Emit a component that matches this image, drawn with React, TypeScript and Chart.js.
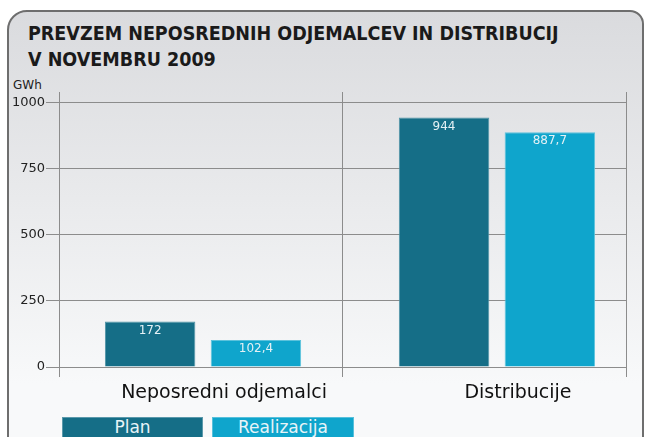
import React, { useEffect, useRef } from "react";
import { Chart, registerables } from "chart.js";

Chart.register(...registerables);

const categories = ["Neposredni odjemalci", "Distribucije"];
const seriesNames = ["Plan", "Realizacija"];
const planValues = [172, 944];
const realValues = [102.4, 887.7];
const seriesColors = ["#156e87", "#0fa5cc"];
const seriesEdges = ["#4f93a6", "#5cc2dc"];
const yTicks = [0, 250, 500, 750, 1000];
const titleLines = ["PREVZEM NEPOSREDNIH ODJEMALCEV IN DISTRIBUCIJ", "V NOVEMBRU 2009"];
const unitLabel = "GWh";

// category axis bounds (group positions 0 and 1) and the divider between groups
const X_MIN = -0.49;
const X_MAX = 1.439;
const X_DIVIDER = 0.4745;

const FONT_C = "'DejaVu Sans Condensed', 'DejaVu Sans', sans-serif";
const FONT = "'DejaVu Sans', sans-serif";
const GRID = "#8c8c8c";

const valueLabels = {
  id: "valueLabels",
  afterDatasetsDraw(chart: any) {
    const ctx = chart.ctx;
    ctx.save();
    ctx.font = `12px ${FONT}`;
    ctx.fillStyle = "#e4f1f5";
    ctx.textAlign = "center";
    ctx.textBaseline = "top";
    chart.data.datasets.forEach((ds: any, di: number) => {
      const meta = chart.getDatasetMeta(di);
      meta.data.forEach((bar: any, i: number) => {
        const v = ds.data[i].y;
        ctx.fillText(String(v).replace(".", ","), bar.x, bar.y + 3);
      });
    });
    ctx.restore();
  },
};

const groupLines = {
  id: "groupLines",
  beforeDatasetsDraw(chart: any) {
    const ctx = chart.ctx;
    const xs = chart.scales.x;
    const area = chart.chartArea;
    ctx.save();
    ctx.strokeStyle = GRID;
    ctx.lineWidth = 1;
    [X_MIN, X_DIVIDER, X_MAX].forEach((v) => {
      const px = Math.round(xs.getPixelForValue(v)) + 0.5;
      ctx.beginPath();
      ctx.moveTo(px, area.top);
      ctx.lineTo(px, area.bottom + 10);
      ctx.stroke();
    });
    ctx.restore();
  },
};

export default function App() {
  const canvasRef = useRef<HTMLCanvasElement | null>(null);

  useEffect(() => {
    const chart = new Chart(canvasRef.current as HTMLCanvasElement, {
      type: "bar",
      data: {
        datasets: [
          {
            label: seriesNames[0],
            data: planValues.map((v, i) => ({ x: i, y: v })),
            backgroundColor: seriesColors[0],
            borderColor: seriesEdges[0],
            borderWidth: 1,
          },
          {
            label: seriesNames[1],
            data: realValues.map((v, i) => ({ x: i, y: v })),
            backgroundColor: seriesColors[1],
            borderColor: seriesEdges[1],
            borderWidth: 1,
          },
        ],
      },
      options: {
        animation: false,
        responsive: false,
        events: [],
        layout: { padding: { left: 0, right: 20, top: 92, bottom: 0 } },
        datasets: {
          bar: { categoryPercentage: 0.72, barPercentage: 0.855 },
        },
        plugins: {
          legend: { display: false },
          tooltip: { enabled: false },
          title: { display: false },
        },
        scales: {
          x: {
            type: "linear",
            min: X_MIN,
            max: X_MAX,
            offset: false,
            border: { display: false },
            grid: { display: false, offset: false, drawTicks: true, tickLength: 10 },
            ticks: {
              color: "#111",
              font: { family: FONT, size: 19 },
              padding: 5,
              labelOffset: 21,
              callback: (value: any) =>
                Number.isInteger(value) ? categories[value] : "",
            },
            afterBuildTicks(scale: any) {
              scale.ticks = categories.map((_, i) => ({ value: i }));
            },
            afterFit(scale: any) {
              scale.height = 70;
            },
          },
          y: {
            min: 0,
            max: 1040,
            border: { display: false },
            grid: { color: GRID, lineWidth: 1, tickLength: 13 },
            ticks: {
              color: "#222",
              font: { family: FONT, size: 13 },
              padding: 1,
              callback: (value: any) => String(value),
            },
            afterBuildTicks(scale: any) {
              scale.ticks = yTicks.map((v) => ({ value: v }));
            },
            afterFit(scale: any) {
              scale.width = 59;
            },
          },
        },
      },
      plugins: [groupLines, valueLabels],
    });
    return () => chart.destroy();
  }, []);

  return (
    <div
      style={{
        position: "absolute",
        left: 0,
        top: 0,
        width: 646,
        height: 437,
        overflow: "hidden",
        background: "#ffffff",
      }}
    >
      <div
        style={{
          position: "absolute",
          left: 7,
          top: 10,
          width: 637,
          height: 470,
          boxSizing: "border-box",
          border: "2px solid #6e6e6e",
          borderRadius: "20px 14px 20px 20px",
          background: "linear-gradient(#dadbde, #f8f9fa 80%)",
        }}
      />
      <div
        style={{
          position: "absolute",
          left: 28,
          top: 21,
          fontFamily: FONT_C,
          fontWeight: "bold",
          fontSize: 19.5,
          lineHeight: "26px",
          color: "#1a1a1a",
          whiteSpace: "nowrap",
        }}
      >
        {titleLines.map((t) => (
          <div key={t}>{t}</div>
        ))}
      </div>
      <div
        style={{
          position: "absolute",
          left: 13,
          top: 78,
          fontFamily: FONT,
          fontSize: 12,
          color: "#222",
        }}
      >
        {unitLabel}
      </div>
      <canvas
        ref={canvasRef}
        width={646}
        height={437}
        style={{ position: "absolute", left: 0, top: 0 }}
      />
      {seriesNames.map((name, i) => (
        <div
          key={name}
          style={{
            position: "absolute",
            left: i === 0 ? 62 : 212,
            top: 417,
            width: i === 0 ? 141 : 142,
            height: 30,
            background: seriesColors[i],
            color: "#e8f4f8",
            fontFamily: FONT,
            fontSize: 17,
            lineHeight: "19px",
            textAlign: "center",
            boxSizing: "border-box",
            border: "1px solid rgba(255,255,255,0.3)",
          }}
        >
          {name}
        </div>
      ))}
    </div>
  );
}
